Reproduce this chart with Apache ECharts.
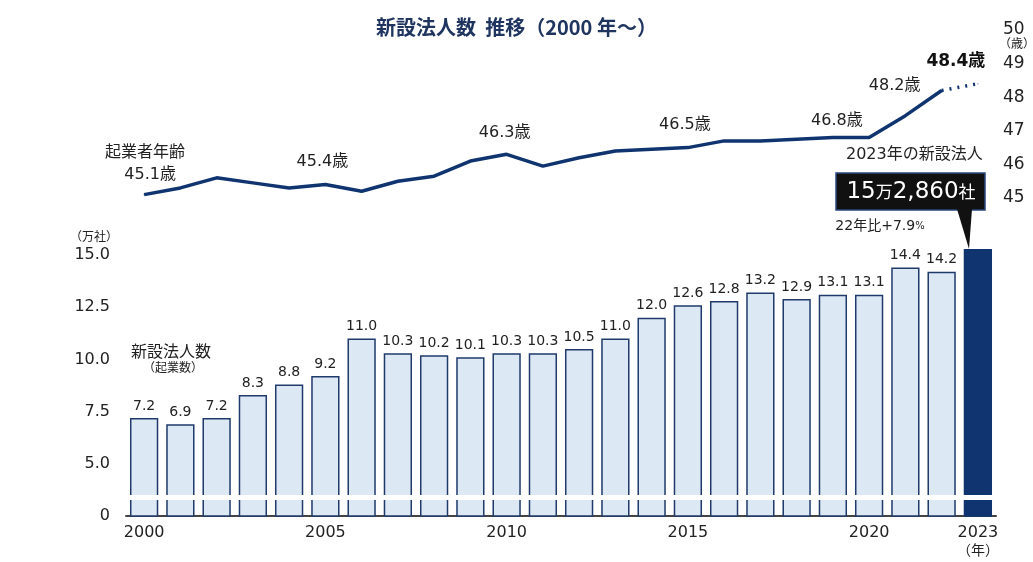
<!DOCTYPE html>
<html><head><meta charset="utf-8">
<script src="https://cdn.jsdelivr.net/npm/echarts@6/dist/echarts.min.js"></script>
<style>html,body{margin:0;padding:0;background:#fff}#c{width:1033px;height:562px}</style>
</head><body><div id="c"></div>
<script>
var years = ['2000','2001','2002','2003','2004','2005','2006','2007','2008','2009','2010','2011','2012','2013','2014','2015','2016','2017','2018','2019','2020','2021','2022','2023'];
var corps = [7.2,6.9,7.2,8.3,8.8,9.2,11.0,10.3,10.2,10.1,10.3,10.3,10.5,11.0,12.0,12.6,12.8,13.2,12.9,13.1,13.1,14.4,14.2,15.286];
var ages = [45.1,45.3,45.6,45.45,45.3,45.4,45.2,45.5,45.65,46.1,46.3,45.95,46.2,46.4,46.45,46.5,46.7,46.7,46.75,46.8,46.8,47.45,48.2,null];
var agesDotted = [null,null,null,null,null,null,null,null,null,null,null,null,null,null,null,null,null,null,null,null,null,null,48.2,48.4];
var xTickYears = ['2000','2005','2010','2015','2020','2023'];
var leftTicks = [2.5,5,7.5,10,12.5,15];
var ageLabels = {0:[6,-20],5:[-3,-23],10:[-2,-21],15:[-3,-23],19:[4,-17],22:[-47,-5]};

var NAVY = '#0f3470';
var FONT = '"DejaVu Sans","Noto Sans CJK JP",sans-serif';
var CJK = '"Noto Sans CJK JP","Noto Sans",sans-serif';
var chart = echarts.init(document.getElementById('c'));

var ageData = ages.map(function(v,i){
  if (ageLabels[i] && v!=null) return {value:v,label:{show:true,position:'inside',offset:ageLabels[i],formatter:v.toFixed(1)+'歳'}};
  return v;
});
var dotData = agesDotted.map(function(v,i){
  if (i===23) return {value:v,label:{show:true,position:'inside',offset:[-22,-22],fontWeight:'bold',fontSize:17,color:'#111',formatter:v.toFixed(1)+'歳'}};
  return v;
});
var barData = corps.map(function(v,i){
  if (i===23) return {value:v,itemStyle:{color:NAVY,borderColor:NAVY},label:{show:false}};
  return v;
});

chart.setOption({
  animation:false,
  textStyle:{fontFamily:FONT},
  title:{text:'新設法人数  推移（2000 年～）',left:'center',top:12,textStyle:{fontSize:20,fontWeight:'bold',color:'#1f3560',fontFamily:CJK}},
  grid:[
    {left:126,right:37,top:30,height:168},
    {left:126,right:37,top:244.6,height:271.4}
  ],
  xAxis:[
    {type:'category',gridIndex:0,data:years,show:false},
    {type:'category',gridIndex:1,data:years,
     axisLine:{lineStyle:{color:'#444',width:2}},axisTick:{show:false},
     axisLabel:{interval:0,fontSize:16,color:'#222',margin:9,fontFamily:FONT,
       formatter:function(v){ if(xTickYears.indexOf(v)<0) return ''; return v==='2023' ? '2023\n{s|（年）}' : v; },
       rich:{s:{fontSize:14,color:'#222',lineHeight:18,fontFamily:CJK}}}}
  ],
  yAxis:[
    {type:'value',gridIndex:0,position:'right',min:45,max:50,interval:1,
     axisLine:{show:false},axisTick:{show:false},splitLine:{show:false},
     axisLabel:{fontSize:17,color:'#222',margin:7,fontFamily:FONT}},
    {type:'value',gridIndex:1,min:2.5,max:15.5,interval:2.5,
     axisLine:{show:false},axisTick:{show:false},splitLine:{show:false},
     axisLabel:{fontSize:16,color:'#222',margin:16,fontFamily:FONT,
       formatter:function(v){ if(leftTicks.indexOf(v)<0) return ''; return v===leftTicks[0] ? '0' : v.toFixed(1); }}}
  ],
  series:[
    {type:'bar',xAxisIndex:1,yAxisIndex:1,data:barData,barCategoryGap:'22%',
     itemStyle:{color:'#dde8f5',borderColor:'#1f3a6b',borderWidth:1.5},
     label:{show:true,position:'top',distance:5,fontSize:14,color:'#222',fontFamily:FONT,formatter:function(p){return p.value.toFixed(1);}},
     markLine:{silent:true,symbol:'none',label:{show:false},lineStyle:{color:'#fff',width:5,type:'solid'},data:[{yAxis:3.41}]}},
    {type:'line',xAxisIndex:0,yAxisIndex:0,data:ageData,symbol:'circle',symbolSize:1,
     lineStyle:{color:NAVY,width:3.5},itemStyle:{color:NAVY},
     label:{fontSize:16,color:'#222',fontFamily:FONT}},
    {type:'line',xAxisIndex:0,yAxisIndex:0,data:dotData,symbol:'circle',symbolSize:1,
     lineStyle:{color:NAVY,width:3.5,type:[2,6]},itemStyle:{color:NAVY},label:{fontFamily:FONT}}
  ],
  graphic:[
    {type:'text',left:105,top:143,style:{text:'起業者年齢',fill:'#222',font:'16px '+CJK}},
    {type:'text',left:131,top:343,style:{text:'新設法人数',fill:'#222',font:'16px '+CJK}},
    {type:'text',left:143,top:361,style:{text:'（起業数）',fill:'#222',font:'12px '+CJK}},
    {type:'text',left:70,top:230,style:{text:'（万社）',fill:'#222',font:'12px '+CJK}},
    {type:'text',left:999,top:37,style:{text:'（歳）',fill:'#222',font:'12px '+CJK}},
    {type:'text',left:846,top:147,style:{text:'2023年の新設法人',fill:'#222',font:'16px '+FONT}},
    {type:'rect',shape:{x:836,y:173,width:149,height:37},style:{fill:'#111',stroke:'#2a4a80',lineWidth:1.5}},
    {type:'polygon',shape:{points:[[957,209],[972,209],[969,249]]},style:{fill:'#111'}},
    {type:'text',x:911,y:192,style:{text:'{b|15}{m|万}{b|2,860}{m|社}',align:'center',verticalAlign:'middle',
      rich:{b:{fontSize:23,fill:'#fff',fontFamily:FONT},m:{fontSize:17,fill:'#fff',fontFamily:CJK}}}},
    {type:'text',x:880,y:226,style:{text:'{a|22年比+7.9}{p|%}',align:'center',verticalAlign:'middle',
      rich:{a:{fontSize:14,fill:'#222',fontFamily:FONT},p:{fontSize:10,fill:'#222',fontFamily:FONT}}}}
  ]
});
</script></body></html>
